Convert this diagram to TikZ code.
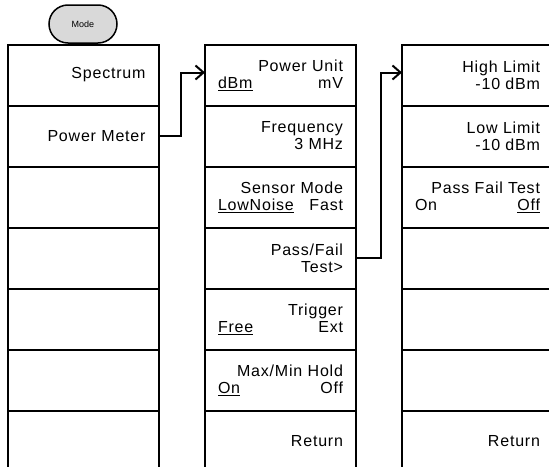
\documentclass[tikz,border=0pt]{standalone}
\usepackage{fontspec}
\setmainfont{Liberation Sans}[LetterSpace=5]
\newfontfamily\modefont{Liberation Sans}
\usepackage{tikz}
\usetikzlibrary{arrows.meta,positioning}
\usepackage{xcolor}
\definecolor{modegray}{RGB}{217,217,217}
\newcommand{\choice}[2]{\hbox to \hsize{#1\hfill#2}}

\begin{document}
\begin{tikzpicture}[
    x=1pt, y=-1pt,
    node distance=0pt and 0pt,
    softkey/.style={draw, rectangle, line width=2pt, minimum width=151pt, minimum height=61pt, text width=125pt, inner xsep=13pt, inner ysep=0pt, outer sep=0pt, align=right, font=\fontsize{16}{17}\selectfont},
    modekey/.style={draw, line width=1.5pt, fill=modegray, rounded corners=19pt, minimum width=68pt, minimum height=38pt, inner sep=0pt, font=\modefont\fontsize{9}{10}\selectfont},
    arrow/.style={-{Straight Barb[length=8pt,width=14pt]}, line width=2pt}
]
    \useasboundingbox (0,0) rectangle (549,466);
    \clip (0,0) rectangle (549,466);

    % mode key and first menu
    \node[modekey] (mode) at (83,24) {Mode};
    \node[softkey] (spectrum) at (83,75) {Spectrum};
    \node[softkey] (powermeter) [below=of spectrum] {Power Meter};
    \node[softkey] (lblanka) [below=of powermeter] {};
    \node[softkey] (lblankb) [below=of lblanka] {};
    \node[softkey] (lblankc) [below=of lblankb] {};
    \node[softkey] (lblankd) [below=of lblankc] {};
    \node[softkey] (lblanke) [below=of lblankd] {};

    % power meter menu
    \node[softkey] (powerunit) at (280.5,75) {Power Unit\\\choice{\underline{dBm}}{mV}};
    \node[softkey] (frequency) [below=of powerunit] {Frequency\\3 MHz};
    \node[softkey] (sensormode) [below=of frequency] {Sensor Mode\\\choice{\underline{LowNoise}}{Fast}};
    \node[softkey] (passfail) [below=of sensormode] {Pass/Fail\\Test>};
    \node[softkey] (trigger) [below=of passfail] {Trigger\\\choice{\underline{Free}}{Ext}};
    \node[softkey] (maxmin) [below=of trigger] {Max/Min Hold\\\choice{\underline{On}}{Off}};
    \node[softkey] (mreturn) [below=of maxmin] {Return};

    % pass/fail menu
    \node[softkey] (highlimit) at (477.5,75) {High Limit\\-10 dBm};
    \node[softkey] (lowlimit) [below=of highlimit] {Low Limit\\-10 dBm};
    \node[softkey] (passfailtest) [below=of lowlimit] {Pass Fail Test\\\choice{On}{\underline{Off}}};
    \node[softkey] (rblanka) [below=of passfailtest] {};
    \node[softkey] (rblankb) [below=of rblanka] {};
    \node[softkey] (rblankc) [below=of rblankb] {};
    \node[softkey] (rreturn) [below=of rblankc] {Return};

    \draw[arrow] (powermeter.east) -- ++(22,0) |- ([yshift=2.5pt]powerunit.west);
    \draw[arrow] (passfail.east) -- ++(25,0) |- ([yshift=2.5pt]highlimit.west);
\end{tikzpicture}
\end{document}
